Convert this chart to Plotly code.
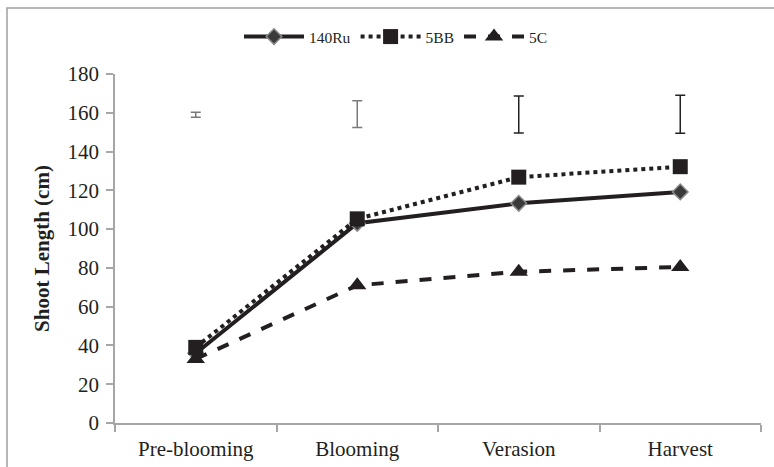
import plotly.graph_objects as go

stages = ["Pre-blooming", "Blooming", "Verasion", "Harvest"]
ru140 = [36, 103, 113.3, 119.2]
bb5 = [39, 105.3, 126.8, 132.2]
c5 = [33, 71, 78, 80.5]
err_center = [159, 159.3, 159.1, 159.2]
err_half = [1.3, 6.9, 9.5, 9.8]

ink = "#231f20"
axis_col = "#a6a6a6"
font_fam = "Times New Roman"

fig = go.Figure()
fig.add_trace(go.Scatter(
    x=stages, y=ru140, name="140Ru", mode="lines+markers",
    line=dict(color=ink, width=4),
    marker=dict(symbol="diamond", size=12, color="#3a3a3a", line=dict(color="#8a8a8a", width=1.5)),
))
fig.add_trace(go.Scatter(
    x=stages, y=bb5, name="5BB", mode="lines+markers",
    line=dict(color=ink, width=4, dash="dot"),
    marker=dict(symbol="square", size=15, color=ink),
))
fig.add_trace(go.Scatter(
    x=stages, y=c5, name="5C", mode="lines+markers",
    line=dict(color=ink, width=4, dash="dash"),
    marker=dict(symbol="triangle-up", size=16, color=ink),
))
# error bars (gray for first two, black for last two)
fig.add_trace(go.Scatter(
    x=stages[:2], y=err_center[:2], mode="markers", showlegend=False, hoverinfo="skip",
    marker=dict(size=1, color="rgba(0,0,0,0)"),
    error_y=dict(type="data", array=err_half[:2], symmetric=True, color="#7a7a7a", thickness=1.5, width=5),
))
fig.add_trace(go.Scatter(
    x=stages[2:], y=err_center[2:], mode="markers", showlegend=False, hoverinfo="skip",
    marker=dict(size=1, color="rgba(0,0,0,0)"),
    error_y=dict(type="data", array=err_half[2:], symmetric=True, color="#222222", thickness=1.5, width=5),
))

L, R, T, B = 115, 761, 74, 423
W, H = 774, 467
pw, ph = R - L, B - T

def px_x(p):
    return (p - L) / pw

def px_y(p):
    return (B - p) / ph

fig.add_shape(type="rect", xref="paper", yref="paper",
              x0=px_x(7), x1=px_x(790), y0=px_y(490), y1=px_y(8),
              line=dict(color="#a0a0a0", width=1.5), fillcolor="rgba(0,0,0,0)", layer="below")

fig.update_layout(
    width=W, height=H,
    margin=dict(l=L, r=W - R, t=T, b=H - B),
    paper_bgcolor="white", plot_bgcolor="white",
    font=dict(family=font_fam, color=ink, size=21),
    showlegend=True,
    legend=dict(orientation="h", x=px_x(396), y=px_y(37), xanchor="center", yanchor="middle",
                font=dict(size=15.5, family=font_fam, color=ink), itemwidth=60,
                bgcolor="rgba(0,0,0,0)", tracegroupgap=0),
    xaxis=dict(
        type="category", showgrid=False, showline=True, linecolor=axis_col, linewidth=1.5,
        ticks="outside", tickson="boundaries", ticklen=7, tickcolor=axis_col, tickwidth=1.5,
        tickfont=dict(size=21, family=font_fam, color=ink), range=[-0.5, 3.5],
        ticklabelstandoff=6, automargin=False,
    ),
    yaxis=dict(
        range=[0, 180], dtick=20, showgrid=False, showline=True, linecolor=axis_col, linewidth=1.5,
        ticks="outside", ticklen=7, tickcolor=axis_col, tickwidth=1.5,
        tickfont=dict(size=21, family=font_fam, color=ink), zeroline=False,
        ticklabelstandoff=3, automargin=False,
        title=dict(text="<b>Shoot Length (cm)</b>", font=dict(size=21, family=font_fam, color=ink), standoff=12),
    ),
)

fig.write_html("out.html")
